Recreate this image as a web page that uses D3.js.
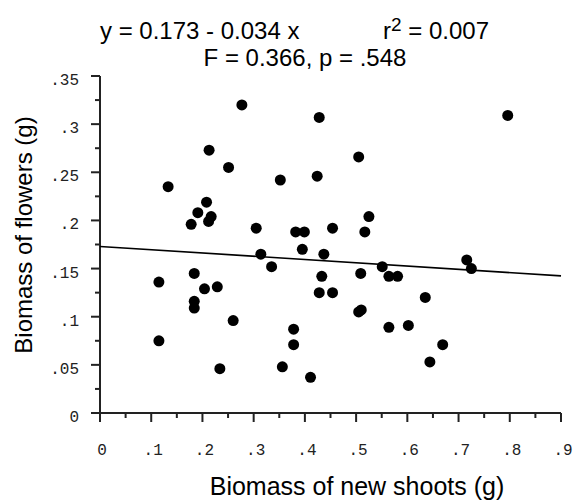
<!DOCTYPE html>
<html>
<head>
<meta charset="utf-8">
<script src="https://cdn.jsdelivr.net/npm/d3@7"></script>
<style>
  body { margin: 0; background: #fff; }
  .tick-label { font-family: "Liberation Mono", "Courier New", monospace; font-size: 16px; fill: #222; }
  .sans { font-family: "Liberation Sans", Arial, sans-serif; fill: #000; }
</style>
</head>
<body>
<svg id="chart" width="574" height="501"></svg>
<script>
// shoot biomass (x) vs flower biomass (y)
const shoots = [0.277, 0.428, 0.213, 0.251, 0.133, 0.352, 0.424, 0.208, 0.191, 0.217,
  0.212, 0.178, 0.305, 0.382, 0.399, 0.454, 0.314, 0.395, 0.437, 0.335,
  0.184, 0.796, 0.505, 0.525, 0.517, 0.716, 0.725, 0.551, 0.509, 0.564,
  0.581, 0.433, 0.115, 0.204, 0.229, 0.184, 0.184, 0.428, 0.454, 0.260,
  0.378, 0.378, 0.115, 0.234, 0.356, 0.411, 0.505, 0.510, 0.635, 0.564,
  0.602, 0.669, 0.644];
const flowers = [0.320, 0.307, 0.273, 0.255, 0.235, 0.242, 0.246, 0.219, 0.208, 0.204,
  0.199, 0.196, 0.192, 0.188, 0.188, 0.192, 0.165, 0.170, 0.165, 0.152,
  0.145, 0.309, 0.266, 0.204, 0.188, 0.159, 0.150, 0.152, 0.145, 0.142,
  0.142, 0.142, 0.136, 0.129, 0.131, 0.116, 0.109, 0.125, 0.125, 0.096,
  0.087, 0.071, 0.075, 0.046, 0.048, 0.037, 0.105, 0.107, 0.120, 0.089,
  0.091, 0.071, 0.053];

const intercept = 0.173, slope = -0.034;
const xTicks = [0, 0.1, 0.2, 0.3, 0.4, 0.5, 0.6, 0.7, 0.8, 0.9];
const xTickLabels = ["0", ".1", ".2", ".3", ".4", ".5", ".6", ".7", ".8", ".9"];
const yTicks = [0, 0.05, 0.1, 0.15, 0.2, 0.25, 0.3, 0.35];
const yTickLabels = ["0", ".05", ".1", ".15", ".2", ".25", ".3", ".35"];

const svg = d3.select("#chart");
const x = d3.scaleLinear().domain([0, 0.9]).range([100, 561]);
const y = d3.scaleLinear().domain([0, 0.35]).range([413, 76]);

// minor ticks halfway between majors
const xMinor = d3.range(0.05, 0.9, 0.1);
const yMinor = d3.range(0.025, 0.35, 0.05);

const ax = svg.append("g").attr("stroke", "#222").attr("stroke-width", 2);
ax.append("line").attr("x1", x(0)).attr("x2", x(0.9)).attr("y1", y(0)).attr("y2", y(0));
ax.append("line").attr("x1", x(0)).attr("x2", x(0)).attr("y1", y(0)).attr("y2", y(0.35));

ax.selectAll(".xmaj").data(xTicks).join("line")
  .attr("x1", d => x(d)).attr("x2", d => x(d))
  .attr("y1", y(0)).attr("y2", y(0) + 9);
ax.selectAll(".xmin").data(xMinor).join("line").attr("class", "xmin")
  .attr("x1", d => x(d)).attr("x2", d => x(d))
  .attr("y1", y(0)).attr("y2", y(0) + 5);
ax.selectAll(".ymaj").data(yTicks).join("line").attr("class", "ymaj")
  .attr("x1", x(0) - 9).attr("x2", x(0))
  .attr("y1", d => y(d)).attr("y2", d => y(d));
ax.selectAll(".ymin").data(yMinor).join("line").attr("class", "ymin")
  .attr("x1", x(0) - 5).attr("x2", x(0))
  .attr("y1", d => y(d)).attr("y2", d => y(d));

svg.selectAll(".xl").data(xTicks).join("text")
  .attr("class", "tick-label")
  .attr("x", d => x(d) + 2).attr("y", y(0) + 42)
  .attr("text-anchor", "middle")
  .text((d, i) => xTickLabels[i]);

svg.selectAll(".yl").data(yTicks).join("text")
  .attr("class", "tick-label")
  .attr("x", 79).attr("y", d => y(d) + 9)
  .attr("text-anchor", "end")
  .text((d, i) => yTickLabels[i]);

// regression line
svg.append("line")
  .attr("x1", x(0)).attr("y1", y(intercept))
  .attr("x2", x(0.9)).attr("y2", y(intercept + slope * 0.9))
  .attr("stroke", "#000").attr("stroke-width", 1.6);

svg.selectAll("circle").data(shoots).join("circle")
  .attr("cx", d => x(d))
  .attr("cy", (d, i) => y(flowers[i]))
  .attr("r", 5.5)
  .attr("fill", "#000");

// header text
svg.append("text").attr("class", "sans").attr("x", 100).attr("y", 39)
  .style("font-size", "24px").text("y = 0.173 - 0.034 x");
const r2 = svg.append("text").attr("class", "sans").attr("x", 383).attr("y", 39)
  .style("font-size", "24px");
r2.append("tspan").text("r");
r2.append("tspan").attr("dy", -8).style("font-size", "19px").text("2");
r2.append("tspan").attr("dy", 8).text(" = 0.007");
svg.append("text").attr("class", "sans").attr("x", 305).attr("y", 66)
  .attr("text-anchor", "middle").style("font-size", "24px")
  .text("F = 0.366, p = .548");

// axis titles
svg.append("text").attr("class", "sans").attr("x", 357).attr("y", 495)
  .attr("text-anchor", "middle").style("font-size", "25px")
  .text("Biomass of new shoots (g)");
svg.append("text").attr("class", "sans")
  .attr("transform", "translate(32,235) rotate(-90)")
  .attr("text-anchor", "middle").style("font-size", "24px")
  .text("Biomass of flowers (g)");
</script>
</body>
</html>
